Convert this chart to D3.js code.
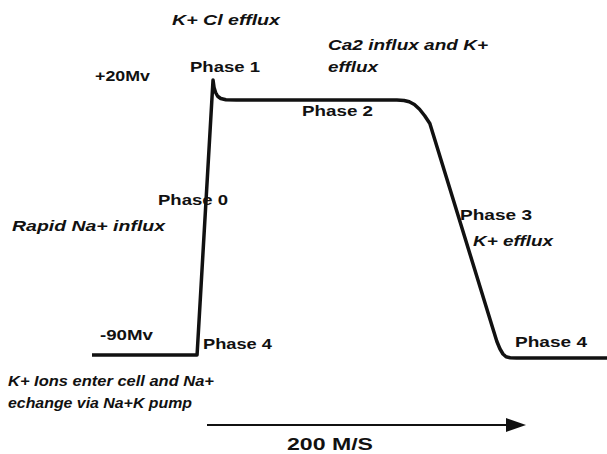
<!DOCTYPE html>
<html>
<head>
<meta charset="utf-8">
<script src="https://cdn.jsdelivr.net/npm/d3@7"></script>
<style>
  html, body { margin: 0; padding: 0; background: #fff; }
  svg { display: block; }
  text { font-family: "Liberation Sans", Arial, sans-serif; font-weight: bold; fill: #111; }
</style>
</head>
<body>
<div id="chart"></div>
<script>
// action potential trace: time (ms) and membrane voltage (mV)
const times = [-100, 2, 17.5, 18.5, 20, 22, 25, 30, 40, 120, 196, 203, 208, 213, 218, 223, 228, 290, 293, 296, 299, 302, 306, 312, 400];
const volts = [-90, -90, 20, 17, 15, 13.5, 12.6, 12.1, 12, 12, 12, 11.8, 11.3, 10.2, 8.3, 5.7, 2.6, -80.5, -84.5, -87.5, -89.6, -90.7, -91.1, -91.2, -91.2];

// annotations
const labels = [
  { text: "K+ Cl efflux", x: 172, y: 25, w: 108, italic: true },
  { text: "Ca2 influx and K+", x: 328, y: 50, w: 160, italic: true },
  { text: "efflux", x: 328, y: 72, w: 50, italic: true },
  { text: "+20Mv", x: 95, y: 81, w: 55 },
  { text: "Phase 1", x: 190, y: 72, w: 70 },
  { text: "Phase 2", x: 302, y: 116, w: 71 },
  { text: "Phase 0", x: 158, y: 205, w: 70 },
  { text: "Rapid Na+ influx", x: 12, y: 231, w: 153, italic: true },
  { text: "Phase 3", x: 460, y: 220, w: 72 },
  { text: "K+ efflux", x: 473, y: 246, w: 80, italic: true },
  { text: "-90Mv", x: 100, y: 340, w: 53 },
  { text: "Phase 4", x: 203, y: 349, w: 69 },
  { text: "Phase 4", x: 515, y: 347, w: 72 },
  { text: "K+ Ions enter cell and Na+", x: 8, y: 386, w: 206, italic: true },
  { text: "echange via Na+K pump", x: 8, y: 408, w: 184, italic: true },
  { text: "200 M/S", x: 287, y: 450, w: 86, size: 16 }
];

const width = 607, height = 454;
const svg = d3.select('#chart').append('svg')
  .attr('width', width)
  .attr('height', height);

const x = d3.scaleLinear().domain([-100, 400]).range([92, 607]);
const y = d3.scaleLinear().domain([-90, 20]).range([355, 80]);

const points = times.map((t, i) => [t, volts[i]]);
const line = d3.line()
  .x(d => x(d[0]))
  .y(d => y(d[1]));

svg.append('path')
  .datum(points)
  .attr('d', line)
  .attr('fill', 'none')
  .attr('stroke', '#111')
  .attr('stroke-width', 3.5)
  .attr('stroke-linejoin', 'round');

// time arrow
svg.append('line')
  .attr('x1', 207).attr('y1', 425)
  .attr('x2', 510).attr('y2', 425)
  .attr('stroke', '#111')
  .attr('stroke-width', 2);
svg.append('path')
  .attr('d', 'M506,418 L526,425 L506,432 Z')
  .attr('fill', '#111');

svg.selectAll('text.lbl')
  .data(labels)
  .join('text')
  .attr('class', 'lbl')
  .attr('x', d => d.x)
  .attr('y', d => d.y)
  .attr('font-size', d => d.size || 15)
  .attr('font-style', d => d.italic ? 'italic' : 'normal')
  .attr('textLength', d => d.w)
  .attr('lengthAdjust', 'spacingAndGlyphs')
  .text(d => d.text);
</script>
</body>
</html>
